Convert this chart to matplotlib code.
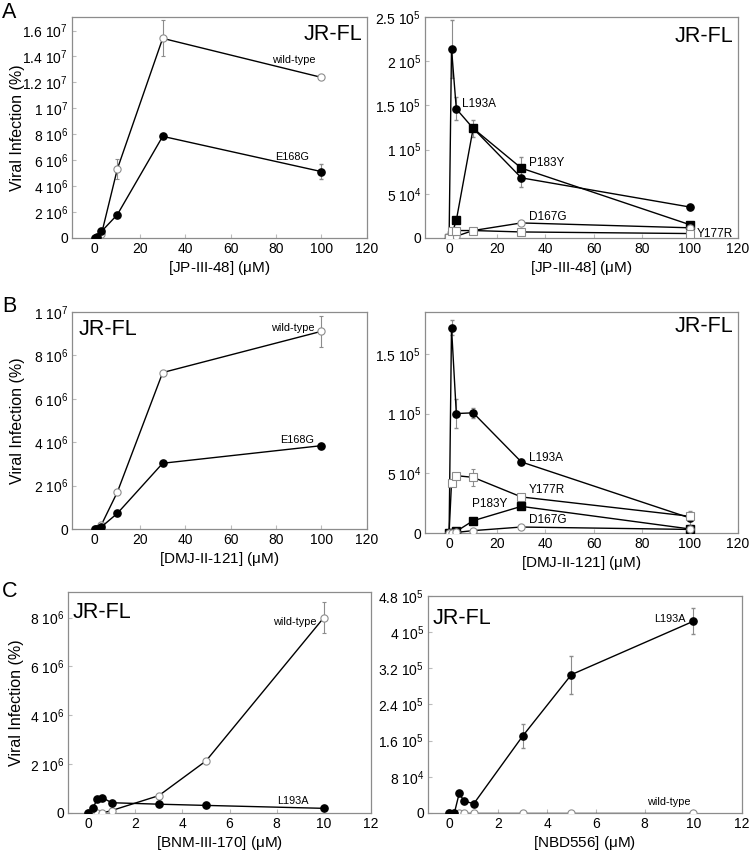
import numpy as np
import matplotlib
matplotlib.use('Agg')
import matplotlib.pyplot as plt
from matplotlib.ticker import FuncFormatter

plt.rcParams['font.family'] = ['Liberation Sans', 'DejaVu Sans']
plt.rcParams['mathtext.fontset'] = 'custom'
plt.rcParams['mathtext.rm'] = 'Liberation Sans'
plt.rcParams['mathtext.it'] = 'Liberation Sans:italic'

# ---- data ----
# Panel A (JP-III-48)
xA = [0, 1, 3, 10, 30, 100]
A_wt = [0, 0.05e6, 0.3e6, 5.32e6, 15.4e6, 12.39e6]
A_wt_err = [0, 0, 0, 0.8e6, 1.4e6, 0.12e6]
A_e168g = [0, 0.1e6, 0.5e6, 1.8e6, 7.84e6, 5.12e6]
A_e168g_err = [0, 0, 0, 0, 0, 0.55e6]

A_l193a = [0, 2.14e5, 1.46e5, 1.24e5, 0.68e5, 0.35e5]
A_l193a_err = [0, 0.33e5, 0.13e5, 0.1e5, 0.1e5, 0]
A_p183y = [0, 0.3e4, 2.0e4, 12.4e4, 7.9e4, 1.5e4]
A_p183y_err = [0, 0, 0, 0, 1.3e4, 0]
A_d167g = [0, 0.1e4, 0.2e4, 0.84e4, 1.7e4, 1.15e4]
A_y177r = [0, 0.76e4, 0.84e4, 0.84e4, 0.68e4, 0.5e4]

# Panel B (DMJ-II-121)
xB = [0, 1, 3, 10, 30, 100]
B_wt = [0, 0.02e6, 0.2e6, 1.7e6, 7.21e6, 9.11e6]
B_wt_err = [0, 0, 0, 0, 0, 0.7e6]
B_e168g = [0, 0.02e6, 0.1e6, 0.72e6, 3.03e6, 3.84e6]

B_l193a = [0, 17.2e4, 10.0e4, 10.06e4, 5.95e4, 1.26e4]
B_l193a_err = [0, 0.6e4, 1.2e4, 0.4e4, 0, 0.6e4]
B_y177r = [0, 4.19e4, 4.8e4, 4.66e4, 3.02e4, 1.4e4]
B_y177r_err = [0, 0, 0, 0.7e4, 0, 0.3e4]
B_p183y = [0, 0, 0.14e4, 1.03e4, 2.23e4, 0.34e4]
B_d167g = [0, 0, 0.05e4, 0.2e4, 0.5e4, 0.3e4]

# Panel C (BNM-III-170 / NBD556)
xC = [0, 0.2, 0.4, 0.6, 1, 3, 5, 10]
C_wt = [0, 0, 0, 0, 0.1e6, 0.71e6, 2.13e6, 8.0e6]
C_wt_err = [0, 0, 0, 0, 0, 0, 0, 0.65e6]
C_l193a = [0, 0.19e6, 0.59e6, 0.63e6, 0.42e6, 0.36e6, 0.31e6, 0.19e6]

D_l193a = [0, 0, 4.36e4, 2.6e4, 2.07e4, 17.0e4, 30.6e4, 42.4e4]
D_l193a_err = [0, 0, 0, 0, 0, 2.6e4, 4.2e4, 2.9e4]
D_wt = [0, 0, 0, 0, 0, 0, 0, 0]


def sci(v, pos):
    if v == 0:
        return '0'
    e = int(np.floor(np.log10(abs(v)) + 1e-9))
    m = v / 10**e
    return r'%g $\mathregular{10^{%d}}$' % (round(m, 2), e)


grey = '#8c8c8c'
lw = 1.0
ms = 5.2


def style(ax, xlim, xticks, ylim, yticks, xlabel, ylabel=None):
    ax.set_xlim(xlim)
    ax.set_ylim(ylim)
    ax.set_xticks(xticks)
    ax.set_yticks(yticks)
    ax.yaxis.set_major_formatter(FuncFormatter(sci))
    ax.tick_params(direction='in', length=3, color='#bbbbbb', labelsize=10, pad=3)
    for s in ax.spines.values():
        s.set_color(grey)
        s.set_linewidth(0.9)
    ax.set_xlabel(xlabel, fontsize=11, labelpad=2)
    if ylabel:
        ax.set_ylabel(ylabel, fontsize=11.5)


def filled_c(ax, x, y, err=None):
    ax.errorbar(x, y, yerr=err, color='black', lw=lw, marker='o', ms=ms,
                mfc='black', mec='black', ecolor=grey, elinewidth=0.8,
                capsize=1.5, zorder=3)


def open_c(ax, x, y, err=None):
    ax.errorbar(x, y, yerr=err, color='black', lw=lw, marker='o', ms=ms,
                mfc='white', mec=grey, mew=0.8, ecolor=grey, elinewidth=0.8,
                capsize=1.5, zorder=3)


def filled_s(ax, x, y, err=None):
    ax.errorbar(x, y, yerr=err, color='black', lw=lw, marker='s', ms=ms,
                mfc='black', mec='black', ecolor=grey, elinewidth=0.8,
                capsize=1.5, zorder=3)


def open_s(ax, x, y, err=None):
    ax.errorbar(x, y, yerr=err, color='black', lw=lw, marker='s', ms=ms + 0.5,
                mfc='white', mec=grey, mew=0.8, ecolor=grey, elinewidth=0.8,
                capsize=1.5, zorder=3)


fig = plt.figure(figsize=(7.5, 8.52), dpi=100)
ylab = 'Viral Infection (%)'
big = 15.5
sm = 7.8

# A left
ax = fig.add_axes([0.096, 0.7207, 0.393, 0.2594])
open_c(ax, xA, A_wt, A_wt_err)
filled_c(ax, xA, A_e168g, A_e168g_err)
style(ax, (-10, 120), range(0, 121, 20), (0, 1.705e7), np.arange(0, 1.61e7, 2e6),
      r'[JP-III-48] ($\mathregular{\mu}$M)', ylab)
ax.yaxis.set_label_coords(-0.16, 0.5)
ax.text(88, 13.7e6, 'wild-type', fontsize=sm, ha='center', va='center')
ax.text(87, 6.25e6, 'E168G', fontsize=sm, ha='center', va='center')
ax.text(118, 15.7e6, 'JR-FL', fontsize=big, ha='right', va='center')

# A right
ax = fig.add_axes([0.5667, 0.7207, 0.4173, 0.2594])
filled_c(ax, xA, A_l193a, A_l193a_err)
filled_s(ax, xA, A_p183y, A_p183y_err)
open_c(ax, xA, A_d167g)
open_s(ax, xA, A_y177r)
style(ax, (-10, 120), range(0, 121, 20), (0, 2.5e5), np.arange(0, 2.51e5, 5e4),
      r'[JP-III-48] ($\mathregular{\mu}$M)')
ax.text(5.5, 15.2e4, 'L193A', fontsize=8.5, ha='left', va='center')
ax.text(33, 8.5e4, 'P183Y', fontsize=8.5, ha='left', va='center')
ax.text(33, 2.4e4, 'D167G', fontsize=8.5, ha='left', va='center')
ax.text(103, 0.5e4, 'Y177R', fontsize=8.5, ha='left', va='center')
ax.text(118, 2.28e5, 'JR-FL', fontsize=big, ha='right', va='center')

# B left
ax = fig.add_axes([0.096, 0.3791, 0.393, 0.2547])
open_c(ax, xB, B_wt, B_wt_err)
filled_c(ax, xB, B_e168g)
style(ax, (-10, 120), range(0, 121, 20), (0, 1e7), np.arange(0, 1.01e7, 2e6),
      r'[DMJ-II-121] ($\mathregular{\mu}$M)', ylab)
ax.yaxis.set_label_coords(-0.16, 0.5)
ax.text(97, 9.25e6, 'wild-type', fontsize=sm, ha='right', va='center')
ax.text(97, 4.1e6, 'E168G', fontsize=sm, ha='right', va='center')
ax.text(-7, 9.2e6, 'JR-FL', fontsize=big, ha='left', va='center')

# B right
ax = fig.add_axes([0.5667, 0.3744, 0.4173, 0.2594])
filled_c(ax, xB, B_l193a, B_l193a_err)
open_s(ax, xB, B_y177r, B_y177r_err)
filled_s(ax, xB, B_p183y)
open_c(ax, xB, B_d167g)
style(ax, (-10, 120), range(0, 121, 20), (0, 1.85e5), np.arange(0, 1.51e5, 5e4),
      r'[DMJ-II-121] ($\mathregular{\mu}$M)')
ax.text(33, 6.3e4, 'L193A', fontsize=8.5, ha='left', va='center')
ax.text(33, 3.6e4, 'Y177R', fontsize=8.5, ha='left', va='center')
ax.text(17, 2.4e4, 'P183Y', fontsize=8.5, ha='center', va='center')
ax.text(33, 1.1e4, 'D167G', fontsize=8.5, ha='left', va='center')
ax.text(118, 17.3e4, 'JR-FL', fontsize=big, ha='right', va='center')

# C left
ax = fig.add_axes([0.0907, 0.0458, 0.404, 0.2594])
open_c(ax, xC, C_wt, C_wt_err)
filled_c(ax, xC, C_l193a)
style(ax, (-0.85, 12), range(0, 13, 2), (0, 9.05e6), np.arange(0, 8.1e6, 2e6),
      r'[BNM-III-170] ($\mathregular{\mu}$M)', ylab)
ax.yaxis.set_label_coords(-0.145, 0.5)
ax.text(9.7, 7.8e6, 'wild-type', fontsize=sm, ha='right', va='center')
ax.text(9.35, 0.5e6, 'L193A', fontsize=sm, ha='right', va='center')
ax.text(-0.65, 8.2e6, 'JR-FL', fontsize=big, ha='left', va='center')

# C right
ax = fig.add_axes([0.5707, 0.0458, 0.4187, 0.2547])
open_c(ax, xC, D_wt)
filled_c(ax, xC, D_l193a, D_l193a_err)
style(ax, (-0.88, 12), range(0, 13, 2), (0, 4.8e5), np.arange(0, 4.81e5, 8e4),
      r'[NBD556] ($\mathregular{\mu}$M)')
ax.text(9.7, 43e4, 'L193A', fontsize=sm, ha='right', va='center')
ax.text(9.0, 2.5e4, 'wild-type', fontsize=sm, ha='center', va='center')
ax.text(-0.7, 43e4, 'JR-FL', fontsize=big, ha='left', va='center')

# panel letters
fig.text(0.003, 0.985, 'A', fontsize=big, va='center')
fig.text(0.003, 0.64, 'B', fontsize=big, va='center')
fig.text(0.003, 0.306, 'C', fontsize=big, va='center')

plt.savefig('out.png', dpi=100)
